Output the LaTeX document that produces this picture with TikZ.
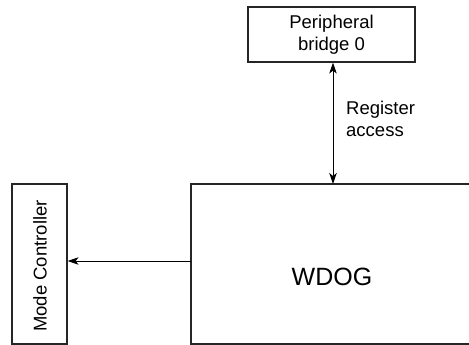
\documentclass[tikz,border=0pt]{standalone}
\usepackage{fontspec}
\setmainfont{Liberation Sans}
\usetikzlibrary{arrows.meta}
\begin{document}
\begin{tikzpicture}[x=1pt,y=-1pt,
  box/.style={draw=black!85,line width=1.2pt},
  lbl/.style={font=\fontsize{18.5}{22}\selectfont,inner sep=0pt},
  tip/.tip={Stealth[length=11pt,width=7.5pt,inset=3pt]},
  conn/.style={line width=1pt,-tip}]
\useasboundingbox (0,0) rectangle (469,345);
\begin{scope}
\clip (0,0) rectangle (469,345);
\node[box,minimum width=167pt,minimum height=55pt,inner sep=0pt] (pb) at (331.5,34.5) {};
\node[lbl,align=center] (pbt) at (331.5,34.5) {Peripheral\\bridge 0};
\draw[box] (480,184) -- (191,184) -- (191,344) -- (480,344);
\coordinate (wtop) at (333,184);
\coordinate (wleft) at (191,261);
\node[lbl,font=\fontsize{25}{30}\selectfont] (wdog) at (332,277) {WDOG};
\node[box,minimum width=55pt,minimum height=160pt,inner sep=0pt] (mc) at (39.5,264) {};
\node[lbl,rotate=90] (mct) at (40,266) {Mode Controller};
\node[lbl,align=left,anchor=north west] (reg) at (346,101) {Register\\access};
\draw[conn,tip-tip] (pb.south -| wtop) -- (wtop);
\draw[conn] (wleft) -- (mc.east |- wleft);
\end{scope}
\end{tikzpicture}
\end{document}
